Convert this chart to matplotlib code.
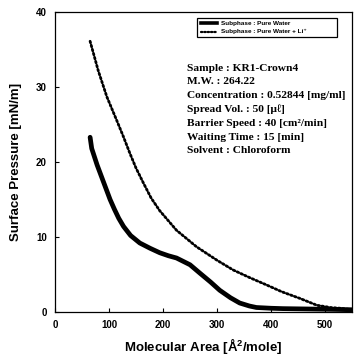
import numpy as np
import matplotlib
matplotlib.use("Agg")
import matplotlib.pyplot as plt
from matplotlib.patches import Rectangle
from matplotlib.lines import Line2D

# 판독한 값 (Molecular Area, Surface Pressure)
area_water = [65, 68, 78, 90, 102, 110, 118, 127, 140, 157, 176, 194, 210, 225, 250, 268, 288, 305, 325, 342, 360, 373, 400, 422, 470, 515, 550]
pres_water = [23.3, 21.8, 19.6, 17.3, 15.0, 13.7, 12.5, 11.4, 10.2, 9.2, 8.5, 7.9, 7.5, 7.2, 6.3, 5.2, 4.0, 2.9, 1.9, 1.2, 0.8, 0.6, 0.5, 0.45, 0.4, 0.35, 0.3]

area_li = [65, 80, 96, 114, 126, 139, 150, 163, 178, 194, 225, 262, 300, 330, 360, 392, 420, 454, 485, 510, 528, 550]
pres_li = [36.1, 32.2, 28.7, 25.6, 23.5, 21.1, 19.2, 17.3, 15.2, 13.5, 10.9, 8.7, 6.9, 5.6, 4.6, 3.6, 2.7, 1.8, 0.9, 0.6, 0.5, 0.3]

legend_labels = ["Subphase : Pure Water", "Subphase : Pure Water + Li\u207a"]
info_lines = [
    "Sample : KR1-Crown4",
    "M.W. : 264.22",
    "Concentration : 0.52844 [mg/ml]",
    "Spread Vol. : 50 [\u03bc\u2113]",
    "Barrier Speed : 40 [cm\u00b2/min]",
    "Waiting Time : 15 [min]",
    "Solvent : Chloroform",
]
x_ticks = [0, 100, 200, 300, 400, 500]
y_ticks = [0, 10, 20, 30, 40]

fig = plt.figure(figsize=(3.54, 3.62), dpi=100)
ax = fig.add_axes([55 / 354, 50 / 362, 297 / 354, 300 / 362])

ax.plot(area_water, pres_water, color="black", lw=3.4, solid_capstyle="round",
        solid_joinstyle="round")
ax.plot(area_li, pres_li, color="black", lw=2.0, linestyle=(0, (0.6, 0.9)),
        dash_capstyle="round")

ax.set_xlim(0, 550)
ax.set_ylim(0, 40)
ax.set_xticks(x_ticks)
ax.set_yticks(y_ticks)
ax.tick_params(direction="in", length=3, width=0.8, labelsize=7, pad=6)
for lab in ax.get_xticklabels() + ax.get_yticklabels():
    lab.set_fontweight("bold")
    lab.set_family("Liberation Sans")
for sp in ax.spines.values():
    sp.set_linewidth(0.9)

ax.set_xlabel("Molecular Area [$\\mathregular{\\AA^2}$/mole]", fontsize=9.5,
              fontweight="bold", family="Liberation Sans", labelpad=4)
ax.set_ylabel("Surface Pressure [mN/m]", fontsize=9.5, fontweight="bold",
              family="Liberation Sans", labelpad=10)

# 범례 상자 (원본 위치에 맞춰 직접 그림)
ax.add_patch(Rectangle((0.478, 0.917), 0.471, 0.063, transform=ax.transAxes,
                       fill=False, ec="black", lw=0.9))
leg_y = [0.962, 0.935]
styles = [dict(lw=2.6), dict(lw=1.6, linestyle=(0, (0.6, 0.9)), dash_capstyle="round")]
for yy, lbl, st in zip(leg_y, legend_labels, styles):
    ax.add_line(Line2D([0.49, 0.545], [yy, yy], transform=ax.transAxes, color="black", **st))
    ax.text(0.56, yy, lbl, transform=ax.transAxes, ha="left", va="center",
            fontsize=4.6, fontweight="bold", family=["Liberation Sans", "DejaVu Sans"])

for i, line in enumerate(info_lines):
    ax.text(0.444, 0.813 - i * 0.046, line, transform=ax.transAxes,
            ha="left", va="center", fontsize=8.2, fontweight="bold",
            family=["Liberation Serif", "DejaVu Serif"])

fig.savefig("out.png", dpi=100)
